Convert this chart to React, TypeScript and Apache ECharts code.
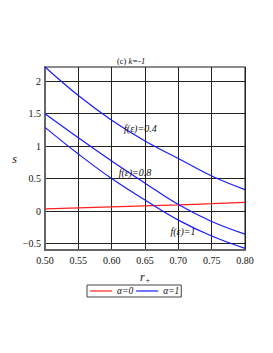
import React, { useEffect, useRef } from "react";
import * as echarts from "echarts";

const rValues = [0.5, 0.55, 0.6, 0.65, 0.7, 0.75, 0.8];
const alpha0 = [0.035, 0.05, 0.065, 0.08, 0.095, 0.115, 0.135];
const alpha1f04 = [2.22, 1.78, 1.4, 1.08, 0.81, 0.54, 0.33];
const alpha1f08 = [1.5, 1.13, 0.77, 0.43, 0.1, -0.16, -0.355];
const alpha1f1 = [1.29, 0.88, 0.5, 0.17, -0.14, -0.385, -0.575];
const yTicks = [-0.5, 0, 0.5, 1, 1.5, 2];
const curveLabels = [
  { text: "f(ε)=0.4", r: 0.643, s: 1.277 },
  { text: "f(ε)=0.8", r: 0.635, s: 0.6 },
  { text: "f(ε)=1", r: 0.707, s: -0.31 },
];

const SERIF = "Liberation Serif";

export default function App() {
  const ref = useRef<HTMLDivElement>(null);
  useEffect(() => {
    document.body.style.margin = "0";
    const chart = echarts.init(ref.current!, undefined, { renderer: "svg" });
    const pts = (arr: number[]) => rValues.map((r, i) => [r, arr[i]]);
    const blue = "#1a1aff";
    const red = "#ff2020";
    const blueSeries = [alpha1f04, alpha1f08, alpha1f1].map((arr, idx) => ({
      name: "α=1",
      type: "line",
      data: pts(arr),
      smooth: 0.4,
      symbol: "none",
      lineStyle: { color: blue, width: 1.2 },
      itemStyle: { color: blue },
      markPoint: {
        symbol: "circle",
        symbolSize: 0,
        silent: true,
        label: {
          show: true,
          formatter: curveLabels[idx].text,
          fontFamily: SERIF,
          fontStyle: "italic",
          fontSize: 10,
          color: "#111",
          position: "inside",
        },
        data: [{ coord: [curveLabels[idx].r, curveLabels[idx].s], value: 0 }],
      },
    }));
    chart.setOption({
      animation: false,
      textStyle: { fontFamily: SERIF },
      title: {
        text: "{n|(c) }{i|k=-1}",
        left: 117,
        top: 56,
        padding: 0,
        textStyle: {
          fontWeight: "normal",
          rich: {
            n: { fontFamily: SERIF, fontSize: 8.5, fontWeight: "normal", color: "#111" },
            i: { fontFamily: SERIF, fontSize: 8.5, fontWeight: "normal", fontStyle: "italic", color: "#111" },
          },
        },
      },
      grid: {
        left: 45,
        top: 67,
        width: 200,
        height: 183,
        show: true,
        borderColor: "#666",
        borderWidth: 1.5,
        containLabel: false,
      },
      legend: {
        data: ["α=0", "α=1"],
        left: 87,
        top: 285,
        orient: "horizontal",
        borderColor: "#444",
        borderWidth: 1,
        borderRadius: 0,
        padding: [1, 2, 1, 3],
        icon: "rect",
        itemWidth: 22,
        itemHeight: 1.2,
        itemGap: 3,
        textStyle: { fontFamily: SERIF, fontStyle: "italic", fontSize: 9.5, color: "#111" },
      },
      xAxis: {
        type: "value",
        min: 0.5,
        max: 0.8,
        interval: 0.05,
        name: "{i|r}{s|+}",
        nameLocation: "middle",
        nameGap: 20,
        nameTextStyle: {
          rich: {
            i: { fontFamily: SERIF, fontStyle: "italic", fontSize: 12, color: "#111" },
            s: { fontFamily: SERIF, fontSize: 8, color: "#111", verticalAlign: "bottom", padding: [6, 0, 0, 1] },
          },
        },
        axisLine: { show: true, onZero: false, lineStyle: { color: "#666", width: 2 } },
        axisTick: { show: false },
        axisLabel: {
          formatter: (v: number) => v.toFixed(2),
          fontFamily: SERIF,
          fontSize: 10,
          color: "#111",
          margin: 5,
        },
        splitLine: { show: true, lineStyle: { color: "#222", width: 1 } },
      },
      yAxis: {
        type: "value",
        min: -0.6,
        max: 2.22,
        name: "s",
        nameLocation: "middle",
        nameGap: 13,
        nameRotate: 0,
        nameTextStyle: { fontFamily: SERIF, fontStyle: "italic", fontSize: 12, color: "#111" },
        axisLine: { show: true, onZero: false, lineStyle: { color: "#666", width: 2 } },
        axisTick: { show: false, customValues: yTicks },
        axisLabel: {
          customValues: yTicks,
          formatter: (v: number) => String(v).replace("-", "\u2212"),
          fontFamily: SERIF,
          fontSize: 10,
          color: "#111",
          margin: 4,
        },
        splitLine: { show: true, lineStyle: { color: "#222", width: 1 } },
      },
      series: [
        {
          name: "α=0",
          type: "line",
          data: pts(alpha0),
          smooth: true,
          symbol: "none",
          lineStyle: { color: red, width: 1.2 },
          itemStyle: { color: red },
        },
        ...blueSeries,
      ],
    });
    return () => chart.dispose();
  }, []);
  return <div ref={ref} style={{ width: 273, height: 353 }} />;
}
